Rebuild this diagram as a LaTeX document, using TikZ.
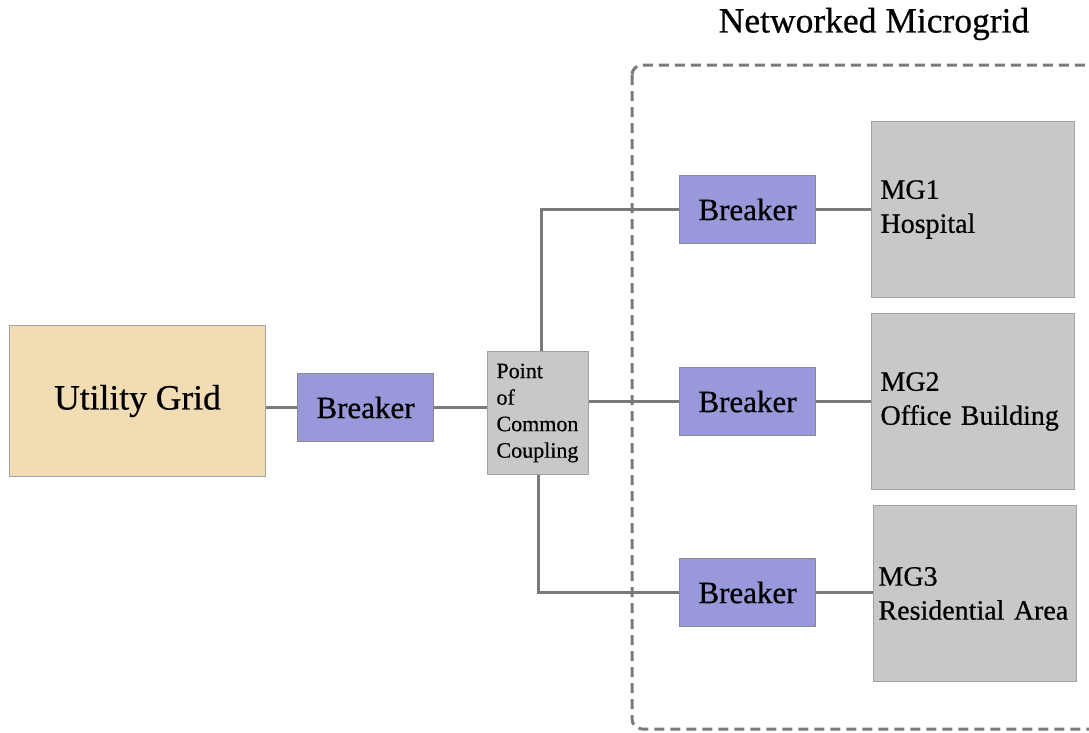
\documentclass[tikz,border=0pt]{standalone}
\usepackage{fontspec}
\setmainfont{Liberation Serif}[FakeBold=0.6]
\begin{document}
\begin{tikzpicture}[x=1pt,y=-1pt,
  wire/.style={draw=wiregray,line width=3pt},
  brk/.style={draw=boxedge,fill=brkblue,line width=1pt,anchor=north west,
    minimum width=136pt,minimum height=68pt,inner sep=0pt,
    font=\fontsize{31}{34}\selectfont},
  mgbox/.style={draw=mgedge,fill=mggray,line width=1pt,anchor=north west,
    minimum width=203pt,minimum height=176pt,inner xsep=9pt,inner ysep=0pt,
    text width=185pt,align=left,font=\fontsize{28}{34}\selectfont}]
\definecolor{wiregray}{HTML}{7A7A7A}
\definecolor{boxedge}{HTML}{8A8A8A}
\definecolor{mgedge}{HTML}{A2A2A2}
\definecolor{brkblue}{HTML}{9898DA}
\definecolor{mggray}{HTML}{C8C8C8}
\definecolor{utilfill}{HTML}{F2DCB3}
\useasboundingbox (0,0) rectangle (1089,732);

% microgrid boundary and its title
\draw[wiregray,line width=3pt,dash pattern=on 10pt off 6pt,rounded corners=10pt]
  (632,65) rectangle (1110,729);
\node (title) at (874,24) {\fontsize{35.5}{40}\selectfont Networked Microgrid};

% grid side
\node[draw=mgedge,fill=utilfill,line width=1pt,anchor=north west,
  minimum width=256pt,minimum height=151pt,inner sep=0pt,
  font=\fontsize{35.5}{40}\selectfont] (ug) at (9,325) {Utility Grid};
\node[brk] (b0) at (297,373) {Breaker};
\node[draw=mgedge,fill=mggray,line width=1pt,anchor=north west,
  minimum width=101pt,minimum height=123pt,inner xsep=9pt,inner ysep=0pt,
  text width=83pt,align=left,font=\fontsize{22}{26.5}\selectfont]
  (pcc) at (487,351) {Point\\of\\Common\\Coupling};

% microgrid breakers and loads
\node[brk] (b1) at (679,175) {Breaker};
\node[brk] (b2) at (679,367) {Breaker};
\node[brk] (b3) at (679,558) {Breaker};
\node[mgbox] (mg1) at (871,121) {MG1\\Hospital};
\node[mgbox] (mg2) at (871,313) {MG2\\Office Building};
\node[mgbox,inner xsep=5pt,text width=193pt] (mg3) at (873,505) {MG3\\Residential Area};

% connections
\draw[wire] (ug.east |- b0.west) -- (b0.west);
\draw[wire] (b0.east) -- (pcc.west |- b0.east);
\draw[wire] ([xshift=3pt]pcc.north) |- (b1.west);
\draw[wire] (pcc.east |- b2.west) -- (b2.west);
\draw[wire] (pcc.south) |- (b3.west);
\draw[wire] (b1.east) -- (mg1.west |- b1.east);
\draw[wire] (b2.east) -- (mg2.west |- b2.east);
\draw[wire] (b3.east) -- (mg3.west |- b3.east);
\end{tikzpicture}
\end{document}
